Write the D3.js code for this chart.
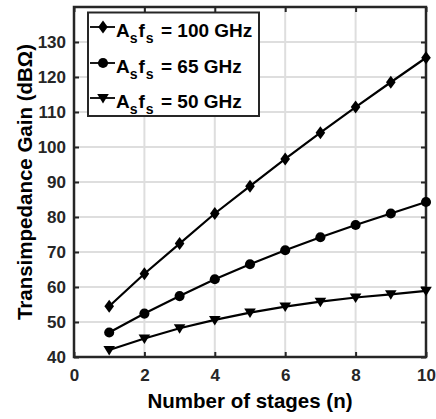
<!DOCTYPE html>
<html>
<head>
<meta charset="utf-8">
<script src="https://cdn.jsdelivr.net/npm/d3@7"></script>
<style>
  body { margin: 0; background: #fff; }
  svg text { font-family: "Liberation Sans", Arial, sans-serif; font-weight: bold; }
</style>
</head>
<body>
<svg id="chart" width="436" height="419"></svg>
<script>
const stages = [1, 2, 3, 4, 5, 6, 7, 8, 9, 10];
const gain100 = [54.5, 63.8, 72.4, 81, 88.8, 96.6, 104.1, 111.4, 118.5, 125.5];
const gain65 = [47, 52.4, 57.4, 62.2, 66.5, 70.5, 74.2, 77.7, 81, 84.3];
const gain50 = [42, 45.3, 48.2, 50.6, 52.7, 54.4, 55.8, 57, 57.9, 58.9];
const xTicks = [0, 2, 4, 6, 8, 10];
const yTicks = [40, 50, 60, 70, 80, 90, 100, 110, 120, 130];
const seriesLabels = ['100 GHz', '65 GHz', '50 GHz'];

const svg = d3.select('#chart');
const m = { left: 74, right: 10, top: 7, bottom: 62 };
const W = 436, H = 419;

const x = d3.scaleLinear().domain([0, 10]).range([m.left, W - m.right]);
const y = d3.scaleLinear().domain([40, 140]).range([H - m.bottom, m.top]);

// grid
const grid = svg.append('g');
grid.selectAll('.gx').data(xTicks.slice(1, -1)).enter().append('line')
  .attr('x1', d => x(d)).attr('x2', d => x(d))
  .attr('y1', y(40)).attr('y2', y(140))
  .attr('stroke', '#dedede').attr('stroke-width', 2);
grid.selectAll('.gy').data(yTicks.slice(1)).enter().append('line')
  .attr('x1', x(0)).attr('x2', x(10))
  .attr('y1', d => y(d)).attr('y2', d => y(d))
  .attr('stroke', '#dedede').attr('stroke-width', 2);

// axes
const tickColor = '#262626';
const xAxis = svg.append('g').attr('transform', `translate(0,${y(40)})`)
  .call(d3.axisBottom(x).tickValues(xTicks).tickSizeInner(-5).tickSizeOuter(0).tickPadding(12));
const yAxis = svg.append('g').attr('transform', `translate(${x(0)},0)`)
  .call(d3.axisLeft(y).tickValues(yTicks).tickSizeInner(-5).tickSizeOuter(0).tickPadding(8));
const xTop = svg.append('g').attr('transform', `translate(0,${y(140)})`)
  .call(d3.axisTop(x).tickValues(xTicks).tickSizeInner(-5).tickSizeOuter(0).tickFormat(''));
const yRight = svg.append('g').attr('transform', `translate(${x(10)},0)`)
  .call(d3.axisRight(y).tickValues(yTicks).tickSizeInner(-5).tickSizeOuter(0).tickFormat(''));

[xAxis, yAxis, xTop, yRight].forEach(a => {
  a.select('.domain').remove();
  a.selectAll('.tick line').attr('stroke', tickColor).attr('stroke-width', 2);
  a.selectAll('.tick text').attr('fill', tickColor).style('font-size', '17px');
});

svg.append('rect')
  .attr('x', x(0)).attr('y', y(140))
  .attr('width', x(10) - x(0)).attr('height', y(40) - y(140))
  .attr('fill', 'none').attr('stroke', tickColor).attr('stroke-width', 2.5);

// series
const line = d3.line().x((d, i) => x(stages[i])).y(d => y(d));
const markerPaths = [
  'M0,-6.5L4.8,0L0,6.5L-4.8,0Z',
  d3.symbol().type(d3.symbolCircle).size(80)(),
  'M-5.8,-4L5.8,-4L0,5.5Z'
];
const allSeries = [gain100, gain65, gain50];

allSeries.forEach((vals, k) => {
  svg.append('path').datum(vals)
    .attr('d', line).attr('fill', 'none')
    .attr('stroke', '#000').attr('stroke-width', 2.2);
  svg.selectAll('.m' + k).data(vals).enter().append('path')
    .attr('d', markerPaths[k])
    .attr('transform', (d, i) => `translate(${x(stages[i])},${y(d)})`)
    .attr('fill', '#000');
});

// legend
const lg = svg.append('g');
lg.append('rect').attr('x', 88).attr('y', 12.5).attr('width', 171).attr('height', 103.5)
  .attr('fill', '#fff').attr('stroke', tickColor).attr('stroke-width', 2);
const rowY = [27, 63, 98];
seriesLabels.forEach((lab, k) => {
  const g = lg.append('g').attr('transform', `translate(0,${rowY[k]})`);
  g.append('line').attr('x1', 90).attr('x2', 115).attr('y1', 0).attr('y2', 0)
    .attr('stroke', '#000').attr('stroke-width', 1.8);
  g.append('path').attr('d', markerPaths[k])
    .attr('transform', 'translate(103,0)')
    .attr('fill', '#000');
  const t = g.append('text').attr('x', 116).attr('y', 9.5).attr('fill', '#000').style('font-size', '19px');
  t.append('tspan').text('A');
  t.append('tspan').attr('dy', 6.5).style('font-size', '14px').text('s');
  t.append('tspan').attr('dy', -6.5).attr('dx', 1).text('f');
  t.append('tspan').attr('dy', 6.5).attr('dx', 1).style('font-size', '14px').text('s');
  t.append('tspan').attr('dy', -6.5).attr('dx', 2).text(' = ' + lab);
});

// axis labels
svg.append('text').attr('x', (x(0) + x(10)) / 2).attr('y', 408)
  .attr('text-anchor', 'middle').attr('fill', '#000').style('font-size', '20.5px')
  .text('Number of stages (n)');
svg.append('text').attr('transform', `translate(32,${(y(40) + y(140)) / 2}) rotate(-90)`)
  .attr('text-anchor', 'middle').attr('fill', '#000').style('font-size', '20.5px')
  .text('Transimpedance Gain (dBΩ)');
</script>
</body>
</html>
